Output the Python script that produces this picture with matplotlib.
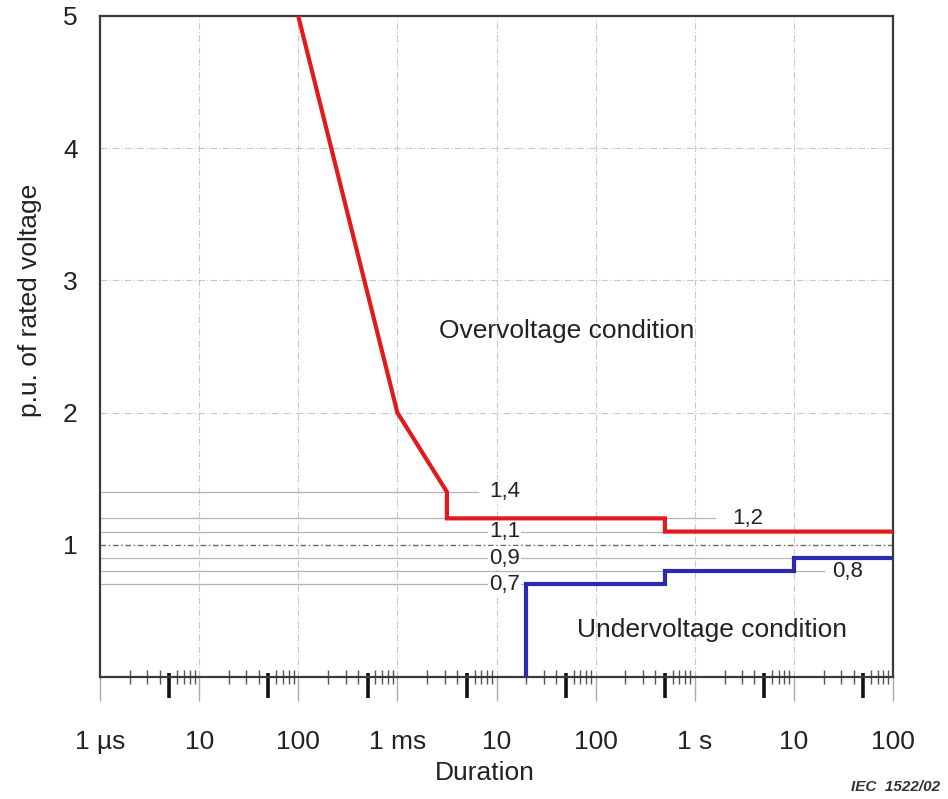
import matplotlib
matplotlib.use("Agg")
import matplotlib.pyplot as plt
import numpy as np

plt.rcParams['font.family'] = ['Liberation Sans', 'DejaVu Sans']

# ---- data ----
over_x = [1e-4, 1e-3, 3.16e-3, 3.16e-3, 0.5, 0.5, 100]
over_y = [5.0, 2.0, 1.4, 1.2, 1.2, 1.1, 1.1]
under_x = [0.02, 0.02, 0.5, 0.5, 10, 10, 100]
under_y = [0.0, 0.7, 0.7, 0.8, 0.8, 0.9, 0.9]

ref_levels = [1.4, 1.2, 1.1, 0.9, 0.8, 0.7]
ref_labels = ['1,4', '1,2', '1,1', '0,9', '0,8', '0,7']
ref_line_end = [6.5e-3, 1.6, 100, 100, 20, 0.02]
ref_label_x = [1.2e-2, 3.4, 1.2e-2, 1.2e-2, 35, 1.2e-2]

xtick_vals = [1e-6, 1e-5, 1e-4, 1e-3, 1e-2, 1e-1, 1, 10, 100]
xtick_labels = ['1 µs', '10', '100', '1 ms', '10', '100', '1 s', '10', '100']
ytick_vals = [1, 2, 3, 4, 5]
ytick_labels = ['1', '2', '3', '4', '5']
thick_ticks = [5e-6, 5e-5, 5e-4, 5e-3, 5e-2, 5e-1, 5, 50]

# ---- figure ----
fig = plt.figure(figsize=(9.48, 7.99), dpi=100)
ax = fig.add_axes([100/948, 122/799, 793/948, 661/799])
ax.set_xscale('log')
ax.set_xlim(1e-6, 100)
ax.set_ylim(0, 5)

grid_c = '#c8c8c8'
for xv in xtick_vals[1:-1]:
    ax.axvline(xv, color=grid_c, lw=0.8, ls=(0, (6, 2, 1, 2)), zorder=1)
for yv in [2, 3, 4]:
    ax.axhline(yv, color=grid_c, lw=0.8, ls=(0, (6, 2, 1, 2)), zorder=1)
ax.axhline(1.0, color='#6a6a6a', lw=1.0, ls=(0, (4, 2, 1, 2)), zorder=1)

for lv, lab, xe, xl in zip(ref_levels, ref_labels, ref_line_end, ref_label_x):
    ax.plot([1e-6, xe], [lv, lv], color='#b4b4b4', lw=0.9, zorder=2)
    ax.text(xl, lv, lab, ha='center', va='center', fontsize=16, color='#222222',
            bbox=dict(facecolor='white', edgecolor='none', pad=0.8), zorder=3)

ax.plot(over_x, over_y, color='#e3191c', lw=3.0, zorder=5, solid_joinstyle='miter')
ax.plot(under_x, under_y, color='#2a2ab0', lw=3.0, zorder=5, solid_joinstyle='miter')

ax.text(0.0515, 2.62, 'Overvoltage condition', ha='center', va='center',
        fontsize=19, color='#222222')
ax.text(1.5, 0.355, 'Undervoltage condition', ha='center', va='center',
        fontsize=19, color='#222222')

# ticks
ax.set_xticks(xtick_vals)
ax.set_xticklabels(xtick_labels, fontsize=19, color='#222222')
minor = [m * 10.0**e for e in range(-6, 2) for m in (2, 3, 4, 6, 7, 8, 9)]
ax.set_xticks(minor, minor=True)
ax.tick_params(axis='x', which='major', direction='out', length=17, width=1.0,
               color='#aaaaaa', pad=21)
ax.tick_params(axis='x', which='minor', direction='inout', length=10, width=1.0,
               color='#555555')
ax.set_yticks(ytick_vals)
ax.set_yticklabels(ytick_labels, fontsize=19, color='#222222')
ax.tick_params(axis='y', which='both', length=0, pad=16)
ax.yaxis.set_minor_locator(matplotlib.ticker.NullLocator())

for direction, length in (('out', 15), ('in', 3)):
    sec = ax.secondary_xaxis('bottom')
    sec.set_xticks(thick_ticks)
    sec.set_xticklabels([''] * len(thick_ticks))
    sec.xaxis.set_minor_locator(matplotlib.ticker.NullLocator())
    sec.tick_params(axis='x', which='major', direction=direction, length=length,
                    width=2.6, color='#111111')
    sec.spines['bottom'].set_visible(False)

for s in ax.spines.values():
    s.set_color('#3a3a3a')
    s.set_linewidth(1.6)

fig.text(485/948, 1 - 773/799, 'Duration', ha='center', va='center',
         fontsize=19, color='#222222')
fig.text(30/948, 1 - 300/799, 'p.u. of rated voltage', ha='center', va='center',
         rotation=90, fontsize=19, color='#222222')
fig.text(940/948, 1 - 787/799, 'IEC  1522/02', ha='right', va='center',
         fontsize=11, style='italic', weight='bold', color='#333333')

fig.savefig('out.png', dpi=100)
